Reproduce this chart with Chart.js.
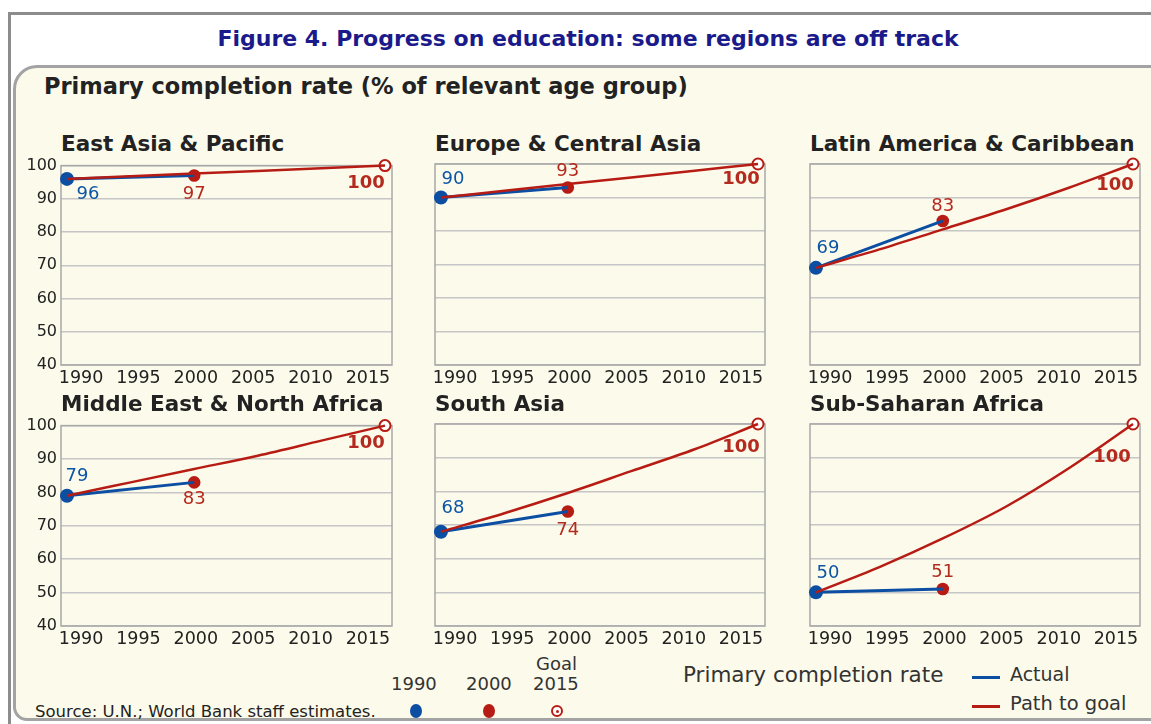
<!DOCTYPE html>
<html>
<head>
<meta charset="utf-8">
<script src="https://cdn.jsdelivr.net/npm/chart.js@4.4.0/dist/chart.umd.min.js"></script>
<style>
  body { margin: 0; width: 1151px; height: 724px; overflow: hidden; background: #fff; position: relative;
         font-family: "DejaVu Sans", sans-serif; color: #222; }
  .abs { position: absolute; white-space: nowrap; }
  #frame { position: absolute; left: 8px; top: 12px; width: 1200px; height: 760px;
           border-left: 3px solid #8c8c8c; border-top: 3px solid #8c8c8c; }
  #panel { position: absolute; left: 13px; top: 65px; width: 1200px; height: 650px; background: #fcfbeb;
           border: 3px solid #a3a3a3; border-radius: 24px 0 0 14px; }
  #title { left: 588px; top: 26px; transform: translateX(-50%); font-weight: bold; font-size: 22px; color: #1a1a8a; }
  #subtitle { left: 44px; top: 73px; font-weight: bold; font-size: 22.5px; color: #222; }
  .ptitle { font-weight: bold; font-size: 21.5px; color: #222; }
  .leg { font-size: 18px; color: #333; }
  canvas { position: absolute; }
</style>
</head>
<body>
<div id="frame"></div>
<div id="panel"></div>
<div id="title" class="abs">Figure 4. Progress on education: some regions are off track</div>
<div id="subtitle" class="abs">Primary completion rate (% of relevant age group)</div>

<div class="abs leg" style="left:391px; top:673px;">1990</div>
<div class="abs leg" style="left:466px; top:673px;">2000</div>
<div class="abs leg" style="left:536px; top:653px;">Goal</div>
<div class="abs leg" style="left:533px; top:673px;">2015</div>
<div class="abs" style="left:410px; top:704px; width:12px; height:14px; border-radius:50%; background:#0b4ea2;"></div>
<div class="abs" style="left:483px; top:704px; width:12px; height:14px; border-radius:50%; background:#b71c14;"></div>
<div class="abs" style="left:551px; top:705px; width:8px; height:8px; border-radius:50%; background:#fff; border:2px solid #b71c14;"></div>
<div class="abs" style="left:556px; top:710px; width:3px; height:3px; border-radius:50%; background:#b71c14;"></div>
<div class="abs leg" style="left:683px; top:662px; font-size:21.5px;">Primary completion rate</div>
<div class="abs" style="left:972px; top:676px; width:28px; height:3px; background:#0b4ea2;"></div>
<div class="abs leg" style="left:1010px; top:663px; font-size:19px;">Actual</div>
<div class="abs" style="left:972px; top:705px; width:28px; height:3px; background:#b71c14;"></div>
<div class="abs leg" style="left:1010px; top:692px; font-size:19.5px;">Path to goal</div>
<div class="abs" style="left:35px; top:702px; font-size:16.5px; color:#222;">Source: U.N.; World Bank staff estimates.</div>

<script>
const regions = ["East Asia & Pacific", "Europe & Central Asia", "Latin America & Caribbean",
                 "Middle East & North Africa", "South Asia", "Sub-Saharan Africa"];
const rate1990 = [96, 90, 69, 79, 68, 50];
const rate2000 = [97, 93, 83, 83, 74, 51];
const goal2015 = [100, 100, 100, 100, 100, 100];
const pathYears = [1990, 1995, 2000, 2005, 2010, 2015];
const pathToGoal = [
  [96, 96.8, 97.6, 98.4, 99.2, 100],
  [90, 92, 94, 96, 98, 100],
  [69, 74.5, 80.5, 86.5, 93, 100],
  [79, 83, 87, 91, 95.5, 100],
  [68, 73.5, 79.5, 86, 92.5, 100],
  [50, 57.5, 66, 75.5, 87, 100]
];
const xTicks = [1990, 1995, 2000, 2005, 2010, 2015];
const yTicks = [40, 50, 60, 70, 80, 90, 100];

// placement of the value labels around the 1990, 2000 and 2015 markers (px)
const labelShift = [
  [[21, 15], [0, 19], [-19, 18]],
  [[12, -18], [0, -16], [-17, 15]],
  [[12, -20], [0, -15], [-18, 21]],
  [[10, -19], [0, 17], [-19, 18]],
  [[12, -23], [0, 19], [-17, 23]],
  [[12, -19], [0, -17], [-21, 33]]
];

const colLeft = [61, 435, 810];
const colWidth = [331, 330, 330];
const rowTop = [164, 424];
const rowHeight = [201, 202];

const BLUE = "#0b4ea2", RED = "#b71c14";
Chart.defaults.font.family = '"DejaVu Sans", sans-serif';

const plotBox = {
  id: "plotBox",
  beforeDatasetsDraw(chart) {
    const a = chart.chartArea, ctx = chart.ctx;
    ctx.save();
    ctx.strokeStyle = "#a8a8a8";
    ctx.lineWidth = 1.5;
    ctx.strokeRect(a.left, a.top, a.right - a.left, a.bottom - a.top);
    ctx.restore();
  }
};

function valueLabels(i) {
  return {
    id: "valueLabels",
    afterDatasetsDraw(chart) {
      const ctx = chart.ctx;
      const spec = [[2, "#0d55a5", "normal"], [3, "#b52a1e", "normal"], [4, "#b52a1e", "bold"]];
      spec.forEach(([di, color, weight], k) => {
        const pt = chart.getDatasetMeta(di).data[0];
        const v = chart.data.datasets[di].data[0].y;
        ctx.save();
        ctx.font = weight + ' 18px "DejaVu Sans"';
        ctx.fillStyle = color;
        ctx.textAlign = "center";
        ctx.textBaseline = "middle";
        ctx.fillText(String(v), pt.x + labelShift[i][k][0], pt.y + labelShift[i][k][1]);
        ctx.restore();
      });
    }
  };
}

regions.forEach((name, i) => {
  const col = i % 3, row = Math.floor(i / 3);
  const w = 42 + colWidth[col] + 14, h = 12 + rowHeight[row] + 30;

  const t = document.createElement("div");
  t.className = "abs ptitle";
  t.style.left = colLeft[col] + "px";
  t.style.top = (rowTop[row] - 33) + "px";
  t.textContent = name;
  document.body.appendChild(t);

  const cv = document.createElement("canvas");
  cv.width = w; cv.height = h;
  cv.style.width = w + "px"; cv.style.height = h + "px";
  cv.style.left = (colLeft[col] - 42) + "px";
  cv.style.top = (rowTop[row] - 12) + "px";
  document.body.appendChild(cv);

  new Chart(cv, {
    type: "line",
    data: {
      datasets: [
        {
          label: "Path to goal",
          data: pathYears.map((y, k) => ({ x: y, y: pathToGoal[i][k] })),
          borderColor: RED, borderWidth: 2.5, pointRadius: 0,
          cubicInterpolationMode: "monotone", clip: false, xAxisID: "x", yAxisID: "y"
        },
        {
          label: "Actual",
          data: [{ x: 1990, y: rate1990[i] }, { x: 2000, y: rate2000[i] }],
          borderColor: BLUE, borderWidth: 3, pointRadius: 0, clip: false, xAxisID: "x", yAxisID: "y"
        },
        {
          label: "1990",
          data: [{ x: 1990, y: rate1990[i] }],
          showLine: false, pointRadius: 7, pointBackgroundColor: BLUE, pointBorderWidth: 0,
          clip: false, xAxisID: "x", yAxisID: "y"
        },
        {
          label: "2000",
          data: [{ x: 2000, y: rate2000[i] }],
          showLine: false, pointRadius: 6.3, pointBackgroundColor: RED, pointBorderWidth: 0,
          clip: false, xAxisID: "x", yAxisID: "y"
        },
        {
          label: "Goal 2015",
          data: [{ x: 2015, y: goal2015[i] }],
          showLine: false, pointRadius: 5.5, pointBackgroundColor: "#fff",
          pointBorderColor: RED, pointBorderWidth: 2, clip: false, xAxisID: "x", yAxisID: "y"
        },
        {
          label: "Goal centre",
          data: [{ x: 2015, y: goal2015[i] }],
          showLine: false, pointRadius: 2.2, pointBackgroundColor: RED, pointBorderColor: RED,
          pointBorderWidth: 0, clip: false, xAxisID: "x", yAxisID: "y"
        }
      ]
    },
    options: {
      responsive: false,
      animation: false,
      layout: { padding: { top: 12, right: 14, left: 0, bottom: 0 } },
      plugins: { legend: { display: false }, tooltip: { enabled: false } },
      scales: {
        x: { type: "linear", min: 1989.53, max: 2015.55, display: false },
        x2: {
          type: "linear", position: "bottom", min: 1988.25, max: 2017.1,
          grid: { display: false }, border: { display: false },
          ticks: { font: { size: 17.5 }, color: "#222", padding: -5, maxRotation: 0, autoSkip: false,
                   callback: v => String(v) },
          afterBuildTicks: s => { s.ticks = xTicks.map(v => ({ value: v })); },
          afterFit: s => { s.height = 30; }
        },
        y: {
          min: 40, max: 100,
          grid: { color: "#c6c6c6", lineWidth: 1.5, drawTicks: false },
          border: { display: false },
          ticks: { display: col === 0, font: { size: 16 }, color: "#222", padding: 4 },
          afterBuildTicks: s => { s.ticks = yTicks.map(v => ({ value: v })); },
          afterFit: s => { s.width = 42; }
        }
      }
    },
    plugins: [plotBox, valueLabels(i)]
  });
});
</script>
</body>
</html>
